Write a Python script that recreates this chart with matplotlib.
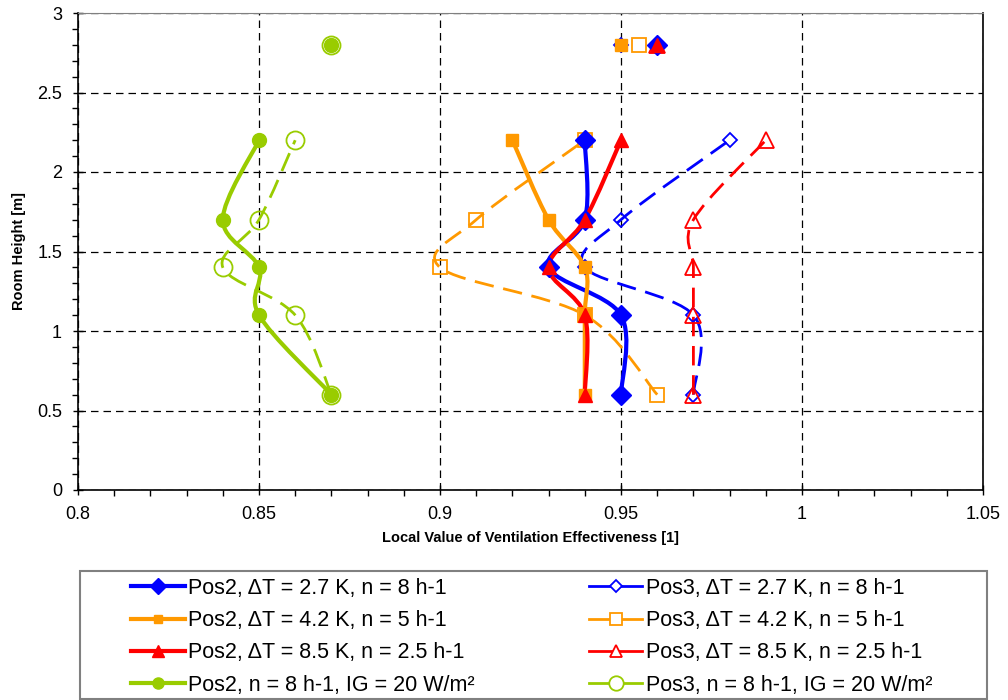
import numpy as np
import matplotlib.pyplot as plt
from matplotlib.path import Path
from matplotlib.patches import PathPatch, Rectangle
from matplotlib.lines import Line2D

plt.rcParams['font.family'] = ['Liberation Sans', 'DejaVu Sans']

# Measurement heights [m]; the 2.8 m point is plotted without a connecting line
heights = [0.6, 1.1, 1.4, 1.7, 2.2]
top_height = 2.8

# Local ventilation effectiveness [1] at each height
pos2_dt27 = [0.95, 0.95, 0.93, 0.94, 0.94]
pos2_dt42 = [0.94, 0.94, 0.94, 0.93, 0.92]
pos2_dt85 = [0.94, 0.94, 0.93, 0.94, 0.95]
pos2_ig20 = [0.87, 0.85, 0.85, 0.84, 0.85]
pos3_dt27 = [0.97, 0.97, 0.94, 0.95, 0.98]
pos3_dt42 = [0.96, 0.94, 0.90, 0.91, 0.94]
pos3_dt85 = [0.97, 0.97, 0.97, 0.97, 0.99]
pos3_ig20 = [0.87, 0.86, 0.84, 0.85, 0.86]

# values at 2.8 m
top_values = {
    'pos2_dt27': 0.96, 'pos2_dt42': 0.95, 'pos2_dt85': 0.96, 'pos2_ig20': 0.87,
    'pos3_dt27': 0.95, 'pos3_dt42': 0.955, 'pos3_dt85': 0.96, 'pos3_ig20': 0.87,
}

labels = {
    'pos2_dt27': 'Pos2, ΔT = 2.7 K, n = 8 h-1',
    'pos2_dt42': 'Pos2, ΔT = 4.2 K, n = 5 h-1',
    'pos2_dt85': 'Pos2, ΔT = 8.5 K, n = 2.5 h-1',
    'pos2_ig20': 'Pos2, n = 8 h-1, IG = 20 W/m²',
    'pos3_dt27': 'Pos3, ΔT = 2.7 K, n = 8 h-1',
    'pos3_dt42': 'Pos3, ΔT = 4.2 K, n = 5 h-1',
    'pos3_dt85': 'Pos3, ΔT = 8.5 K, n = 2.5 h-1',
    'pos3_ig20': 'Pos3, n = 8 h-1, IG = 20 W/m²',
}

values = {
    'pos2_dt27': pos2_dt27, 'pos2_dt42': pos2_dt42,
    'pos2_dt85': pos2_dt85, 'pos2_ig20': pos2_ig20,
    'pos3_dt27': pos3_dt27, 'pos3_dt42': pos3_dt42,
    'pos3_dt85': pos3_dt85, 'pos3_ig20': pos3_ig20,
}

BLUE, ORANGE, RED, GREEN = '#0000FF', '#FF9900', '#FF0000', '#99CC00'
DASH = (0, (7, 3.5))

# color, marker, marker size, filled, linestyle, linewidth
styles = {
    'pos2_dt27': (BLUE, 'D', 10.5, True, '-', 3.0),
    'pos2_dt42': (ORANGE, 's', 8, True, '-', 3.0),
    'pos2_dt85': (RED, '^', 10, True, '-', 3.0),
    'pos2_ig20': (GREEN, 'o', 10, True, '-', 3.0),
    'pos3_dt27': (BLUE, 'D', 7.5, False, DASH, 2.0),
    'pos3_dt42': (ORANGE, 's', 10, False, DASH, 2.0),
    'pos3_dt85': (RED, '^', 11, False, DASH, 2.0),
    'pos3_ig20': (GREEN, 'o', 13, False, DASH, 2.0),
}


def smooth_path(xs, ys):
    """Bezier path through the points, Excel-style smoothed line."""
    pts = np.column_stack([xs, ys])
    n = len(pts)
    verts = [pts[0]]
    codes = [Path.MOVETO]
    for i in range(n - 1):
        p0 = pts[max(i - 1, 0)]
        p1 = pts[i]
        p2 = pts[i + 1]
        p3 = pts[min(i + 2, n - 1)]
        c1 = p1 + (p2 - p0) / 6.0
        c2 = p2 - (p3 - p1) / 6.0
        verts += [c1, c2, p2]
        codes += [Path.CURVE4] * 3
    return Path(verts, codes)


fig = plt.figure(figsize=(10.08, 7.0), dpi=100)
ax = fig.add_axes([78 / 1008, 1 - 490 / 700, 905 / 1008, 477 / 700])

# Pos3 first so the Pos2 markers sit on top
order = ['pos3_dt27', 'pos3_dt42', 'pos3_dt85', 'pos3_ig20',
         'pos2_dt27', 'pos2_dt42', 'pos2_dt85', 'pos2_ig20']
handles = {}
for z, key in enumerate(order):
    color, marker, ms, filled, ls, lw = styles[key]
    patch = PathPatch(smooth_path(values[key], heights), fill=False,
                      edgecolor=color, linewidth=lw, linestyle=ls,
                      capstyle='butt', zorder=3 + z)
    ax.add_patch(patch)
    xs = list(values[key]) + [top_values[key]]
    ys = list(heights) + [top_height]
    mfc = color if filled else 'none'
    mew = 1.0 if filled else 1.3
    ax.plot(xs, ys, ls='none', marker=marker, ms=ms, mfc=mfc, mec=color,
            mew=mew, zorder=20 + z)
    handles[key] = Line2D([], [], color=color, lw=lw, ls='-', marker=marker,
                          ms=ms * 0.8, mfc=mfc if filled else 'white',
                          mec=color, mew=mew)

ax.set_xlim(0.8, 1.05)
ax.set_ylim(0, 3)
ax.set_xticks(np.arange(0.8, 1.051, 0.05))
ax.set_xticklabels(['0.8', '0.85', '0.9', '0.95', '1', '1.05'])
ax.set_xticks(np.arange(0.8, 1.051, 0.01), minor=True)
ax.set_yticks(np.arange(0, 3.01, 0.5))
ax.set_yticklabels(['0', '0.5', '1', '1.5', '2', '2.5', '3'])
ax.set_yticks(np.arange(0, 3.01, 0.1), minor=True)
ax.tick_params(which='major', direction='inout', length=7, width=1,
               labelsize=13, pad=8)
ax.tick_params(which='minor', direction='out', length=4, width=1)
ax.grid(True, which='major', color='black', linestyle=(0, (6, 4)),
        linewidth=0.9)
ax.set_axisbelow(True)
for side in ['left', 'bottom', 'right']:
    ax.spines[side].set_color('black')
    ax.spines[side].set_linewidth(1.2)
ax.spines['top'].set_color('#808080')

ax.set_xlabel('Local Value of Ventilation Effectiveness [1]', fontsize=10.5,
              fontweight='bold', labelpad=6)
ax.set_ylabel('Room Height [m]', fontsize=10.5, fontweight='bold', labelpad=8)

# legend box below the chart
fig.patches.append(Rectangle((80 / 1008, 1 - 699 / 700), 907 / 1008, 128 / 700,
                             transform=fig.transFigure, fill=False,
                             edgecolor='#808080', linewidth=1.5))
legend_keys = ['pos2_dt27', 'pos2_dt42', 'pos2_dt85', 'pos2_ig20',
               'pos3_dt27', 'pos3_dt42', 'pos3_dt85', 'pos3_ig20']
fig.legend([handles[k] for k in legend_keys], [labels[k] for k in legend_keys],
           ncol=2, loc='upper left', bbox_to_anchor=(131 / 1008, 1 - 578 / 700),
           frameon=False, fontsize=15.5, handlelength=2.5, handletextpad=0.15,
           columnspacing=5.3, labelspacing=0.52, borderaxespad=0, borderpad=0)

fig.savefig('out.png', dpi=100)
